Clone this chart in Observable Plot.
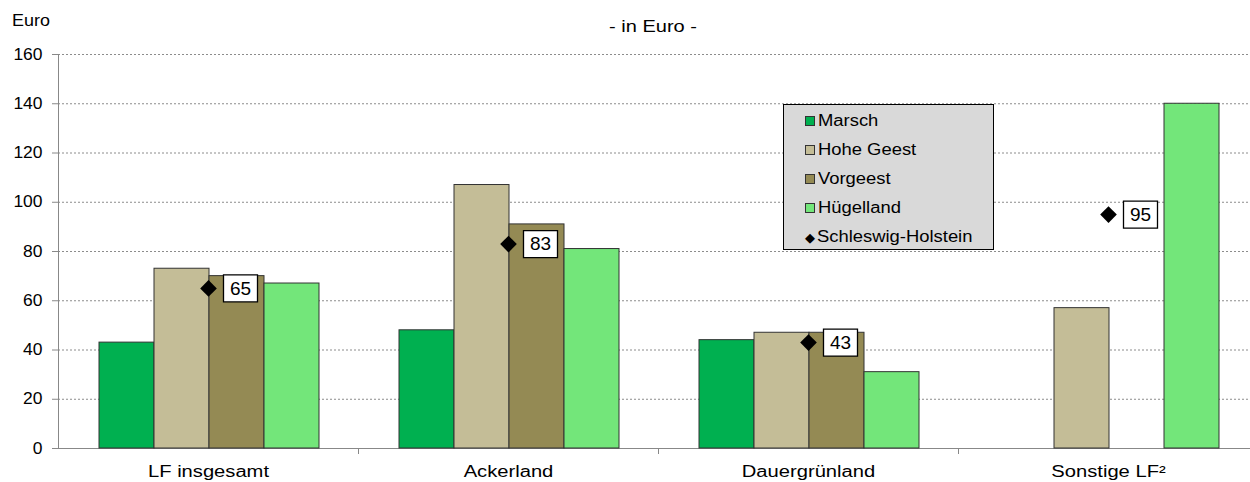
<!DOCTYPE html>
<html>
<head>
<meta charset="utf-8">
<script src="https://cdn.jsdelivr.net/npm/d3@7"></script>
<script src="https://cdn.jsdelivr.net/npm/@observablehq/plot@0.6"></script>
<style>
  html, body { margin: 0; padding: 0; background: #fff; overflow: hidden; }
  body { width: 1250px; height: 482px; position: relative; font-family: "Liberation Sans", Arial, sans-serif; }
  #header { position: relative; height: 40px; }
  #unit { position: absolute; left: 12px; top: 12px; font-size: 16px; display: inline-block; transform: scaleX(1.12); transform-origin: left center; }
  #title { position: absolute; left: 653px; top: 18px; font-size: 16px; white-space: nowrap; transform: translateX(-50%) scaleX(1.25); }
  #legend { position: absolute; left: 783px; top: 104px; width: 209px; height: 144px; background: #D9D9D9; border: 1px solid #000; }
  .item { position: absolute; left: 21px; height: 20px; display: flex; align-items: center; font-size: 16px; white-space: nowrap; }
  .item .lbl { display: inline-block; transform: scaleX(1.15); transform-origin: left center; }
  .sw { width: 8px; height: 8px; border: 1px solid #333; margin-right: 3px; }
  .dia { width: 10px; margin-right: 2px; font-size: 13px; text-align: center; }
  #chart svg { display: block; overflow: visible; max-width: none !important; }
</style>
</head>
<body>
<div id="header"><div id="unit">Euro</div><div id="title">- in Euro -</div></div>
<div id="chart"></div>
<div id="legend"></div>
<script>
const categories = ["LF insgesamt", "Ackerland", "Dauergrünland", "Sonstige LF²"];
const series = ["Marsch", "Hohe Geest", "Vorgeest", "Hügelland"];
const marsch = [43, 48, 44, null];
const hoheGeest = [73, 107, 47, 57];
const vorgeest = [70, 91, 47, null];
const huegelland = [67, 81, 31, 140];
const schleswigHolstein = [65, 83, 43, 95];
const shName = "Schleswig-Holstein";
const colors = ["#00B050", "#C4BD97", "#948A54", "#73E67A"];
const yTicks = [0, 20, 40, 60, 80, 100, 120, 140, 160];

const seriesValues = [marsch, hoheGeest, vorgeest, huegelland];
const data = categories.flatMap((c, i) => series.map((s, j) => ({category: c, series: s, value: seriesValues[j][i]})))
  .filter(d => d.value != null);
const shData = categories.map((c, i) => ({category: c, value: schleswigHolstein[i]}));

const band = 300, gap = 41, bw = 55;
const boxSymbol = {
  draw(ctx) {
    ctx.moveTo(-17, -13.5); ctx.lineTo(17, -13.5); ctx.lineTo(17, 13.5); ctx.lineTo(-17, 13.5); ctx.closePath();
  }
};

const bars = series.map((s, j) => Plot.barY(data.filter(d => d.series === s), {
  x: "category", y: "value", fill: colors[j], stroke: "#333", strokeWidth: 1,
  insetLeft: gap + bw * j, insetRight: band - gap - bw * (j + 1)
}));

const chart = Plot.plot({
  width: 1258, height: 442,
  marginTop: 14, marginBottom: 34, marginLeft: 58, marginRight: 0,
  style: {fontFamily: "'Liberation Sans', Arial, sans-serif", fontSize: "16px", color: "#000", background: "transparent", maxWidth: "none"},
  x: {domain: categories, padding: 0, label: null},
  y: {domain: [0, 160], label: null},
  marks: [
    Plot.gridY(yTicks, {stroke: "#8c8c8c", strokeOpacity: 1, strokeDasharray: "2,2"}),
    Plot.axisY(yTicks, {tickSize: 6, tickPadding: 10, fontSize: 16, stroke: "#888", label: null}),
    Plot.ruleX([categories[0]], {x: d => d, dx: -band / 2, stroke: "#888"}),
    Plot.ruleY([0], {stroke: "#888"}),
    Plot.axisX({tickSize: 6, tickFormat: () => "", dx: band / 2, stroke: "#888", label: null}),
    Plot.axisX({tickSize: 0, tickPadding: 17, fontSize: 16, label: null}),
    ...bars,
    Plot.dot(shData, {x: "category", y: "value", symbol: "diamond2", r: 7.5, fill: "#000", stroke: "none"}),
    Plot.dot(shData, {x: "category", y: "value", symbol: boxSymbol, r: 3, fill: "#fff", stroke: "#000", strokeWidth: 1.3, dx: 32}),
    Plot.text(shData, {x: "category", y: "value", text: d => String(d.value), dx: 32, fontSize: 19, fill: "#000"})
  ]
});
document.getElementById("chart").appendChild(chart);

// reference glyphs are drawn horizontally stretched
function stretch(selector, factor) {
  chart.querySelectorAll(selector).forEach(t => {
    const w = t.getComputedTextLength();
    if (w > 0) { t.setAttribute("textLength", w * factor); t.setAttribute("lengthAdjust", "spacingAndGlyphs"); }
  });
}
stretch('g[aria-label="x-axis tick label"] text', 1.26);
stretch('g[aria-label="y-axis tick label"] text', 1.09);

const legend = document.getElementById("legend");
series.forEach((s, j) => {
  const it = document.createElement("div");
  it.className = "item"; it.style.top = (6 + 29 * j) + "px";
  it.innerHTML = `<span class="sw" style="background:${colors[j]}"></span><span class="lbl">${s}</span>`;
  legend.appendChild(it);
});
const it = document.createElement("div");
it.className = "item"; it.style.top = (6 + 29 * 4) + "px";
it.innerHTML = `<span class="dia">◆</span><span class="lbl">${shName}</span>`;
legend.appendChild(it);
</script>
</body>
</html>
